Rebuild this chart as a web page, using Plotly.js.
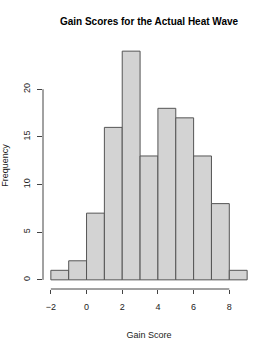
<!DOCTYPE html>
<html>
<head>
<meta charset="utf-8">
<script src="https://cdn.plot.ly/plotly-3.0.1.min.js"></script>
<style>html,body{margin:0;padding:0;background:#fff;}#chart{width:277px;height:342px;}</style>
</head>
<body>
<div id="chart"></div>
<script>
// Histogram bins (left edges, width 1) and counts
const binStarts = [-2, -1, 0, 1, 2, 3, 4, 5, 6, 7, 8];
const counts = [1, 2, 7, 16, 24, 13, 18, 17, 13, 8, 1];
const xTicks = [-2, 0, 2, 4, 6, 8];
const yTicks = [0, 5, 10, 15, 20];
const titleText = "Gain Scores for the Actual Heat Wave";
const xTitle = "Gain Score";
const yTitle = "Frequency";

const font = "Liberation Sans, Arial, Helvetica, sans-serif";
const axisColor = "#444";

const trace = {
  type: "bar",
  x: binStarts,
  y: counts,
  width: binStarts.map(() => 1),
  offset: 0,
  marker: { color: "#D3D3D3", line: { color: "#555", width: 1 } },
  hoverinfo: "skip"
};

const layout = {
  width: 277, height: 342,
  margin: { l: 43, r: 21.5, t: 42, b: 53, pad: 0 },
  paper_bgcolor: "#fff", plot_bgcolor: "#fff",
  showlegend: false,
  bargap: 0,
  title: {
    text: "<b>" + titleText + "</b>",
    font: { family: font, size: 10, color: "#000" },
    x: 0.5, xref: "paper", xanchor: "center",
    y: 1 - 21 / 342, yref: "container", yanchor: "middle"
  },
  xaxis: {
    range: [-2.44, 9.44],
    tickvals: xTicks,
    ticks: "outside", ticklen: 4, tickwidth: 1, tickcolor: axisColor,
    showgrid: false, zeroline: false, showline: false,
    tickfont: { family: font, size: 9, color: "#222" },
    ticklabelstandoff: 5,
    title: { text: xTitle, font: { family: font, size: 9, color: "#222" }, standoff: 20 },
    fixedrange: true
  },
  yaxis: {
    range: [-0.96, 24.96],
    tickvals: yTicks,
    ticks: "outside", ticklen: 5, tickwidth: 1, tickcolor: axisColor,
    tickangle: -90,
    showgrid: false, zeroline: false, showline: false,
    tickfont: { family: font, size: 9, color: "#222" },
    ticklabelstandoff: 3,
    title: { text: yTitle, font: { family: font, size: 9, color: "#222" }, standoff: 12 },
    fixedrange: true
  },
  shapes: [
    { type: "line", xref: "x", yref: "paper", x0: xTicks[0], x1: xTicks[xTicks.length - 1], y0: 0, y1: 0,
      line: { color: axisColor, width: 1 } },
    { type: "line", xref: "paper", yref: "y", x0: 0, x1: 0, y0: yTicks[0], y1: yTicks[yTicks.length - 1],
      line: { color: axisColor, width: 1 } }
  ]
};

Plotly.newPlot("chart", [trace], layout, { displayModeBar: false, staticPlot: true });
</script>
</body>
</html>
